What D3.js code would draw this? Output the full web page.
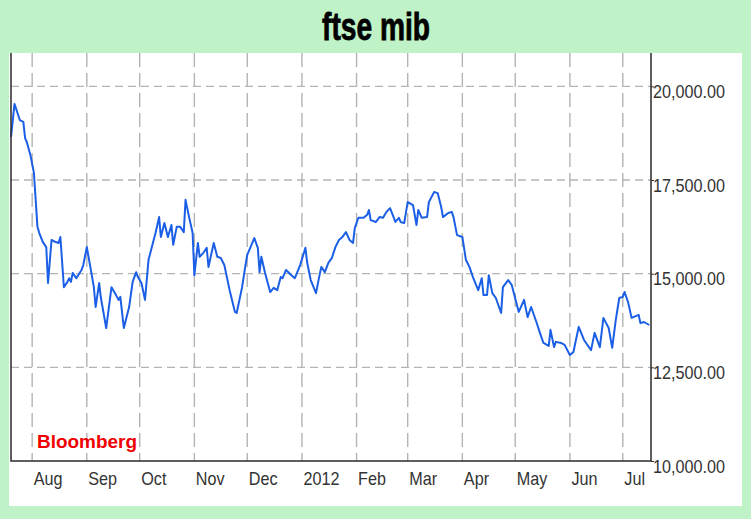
<!DOCTYPE html>
<html><head><meta charset="utf-8">
<script src="https://cdn.jsdelivr.net/npm/d3@7"></script>
<style>body{margin:0;background:#bff2c6;} svg{display:block}</style>
</head><body><svg id="c" width="751" height="519"></svg>
<script>
const titleText = "ftse mib";
const sourceText = "Bloomberg";
const dates = [
"2011-07-20","2011-07-22","2011-07-25","2011-07-27","2011-07-28","2011-07-29","2011-07-31",
"2011-08-02","2011-08-03","2011-08-04","2011-08-05","2011-08-07","2011-08-09","2011-08-10","2011-08-12",
"2011-08-14","2011-08-16","2011-08-17","2011-08-19","2011-08-21","2011-08-22","2011-08-23","2011-08-24",
"2011-08-26","2011-08-29","2011-08-30","2011-09-01","2011-09-03","2011-09-05","2011-09-06","2011-09-08",
"2011-09-09","2011-09-12","2011-09-15","2011-09-17","2011-09-19","2011-09-20","2011-09-22","2011-09-25",
"2011-09-27","2011-09-29","2011-09-30","2011-10-02","2011-10-04","2011-10-06","2011-10-10","2011-10-12",
"2011-10-13","2011-10-15","2011-10-17","2011-10-19","2011-10-20","2011-10-22","2011-10-24","2011-10-26",
"2011-10-27","2011-10-29","2011-10-31","2011-11-01","2011-11-03","2011-11-04","2011-11-06","2011-11-08",
"2011-11-09","2011-11-12","2011-11-14","2011-11-16","2011-11-18","2011-11-21","2011-11-24","2011-11-25",
"2011-11-28","2011-11-30","2011-12-01","2011-12-05","2011-12-07","2011-12-08","2011-12-09","2011-12-11",
"2011-12-14","2011-12-16","2011-12-18","2011-12-20","2011-12-21","2011-12-23","2011-12-26","2011-12-28",
"2011-12-31","2012-01-03","2012-01-04","2012-01-06","2012-01-09","2012-01-11","2012-01-12","2012-01-14",
"2012-01-16","2012-01-18","2012-01-20","2012-01-22","2012-01-24","2012-01-26","2012-01-28","2012-01-30",
"2012-01-31","2012-02-02","2012-02-05","2012-02-07","2012-02-08","2012-02-09","2012-02-12","2012-02-14",
"2012-02-16","2012-02-18","2012-02-20","2012-02-22","2012-02-23","2012-02-25","2012-02-26","2012-02-28",
"2012-03-01","2012-03-04","2012-03-06","2012-03-07","2012-03-09","2012-03-12","2012-03-13","2012-03-16",
"2012-03-18","2012-03-20","2012-03-21","2012-03-24","2012-03-26","2012-03-27","2012-03-29","2012-04-01",
"2012-04-03","2012-04-05","2012-04-07","2012-04-10","2012-04-12","2012-04-13","2012-04-15","2012-04-16",
"2012-04-18","2012-04-20","2012-04-23","2012-04-24","2012-04-27","2012-04-29","2012-05-03","2012-05-06",
"2012-05-08","2012-05-10","2012-05-13","2012-05-15","2012-05-17","2012-05-20","2012-05-21","2012-05-23",
"2012-05-24","2012-05-27","2012-05-29","2012-06-01","2012-06-03","2012-06-06","2012-06-09","2012-06-13",
"2012-06-15","2012-06-18","2012-06-20","2012-06-23","2012-06-25","2012-06-27","2012-06-29","2012-07-01",
"2012-07-02","2012-07-04","2012-07-06","2012-07-10","2012-07-11","2012-07-13","2012-07-16"];
const values = [
18650,19530,19100,19050,18620,18510,18170,
17690,16970,16250,16090,15850,15710,14750,15900,
15850,15820,15980,14640,14780,14880,14780,15020,
14880,15100,15230,15710,15180,14640,14110,14750,
14350,13550,14640,14480,14300,14380,13550,14110,
14780,15040,14910,14750,14300,15370,16090,16510,
15980,16350,15980,16300,15770,16250,16250,16110,
16970,16510,16090,14960,15820,15450,15550,15690,
15180,15820,15450,15420,15230,14560,13980,13950,
14620,15230,15500,15950,15690,15040,15450,15040,
14510,14620,14560,14910,14880,15100,14960,14880,
15230,15690,15290,14830,14480,14960,15180,15040,
15290,15420,15710,15900,15980,16110,15900,15820,
16220,16490,16490,16570,16700,16430,16380,16510,
16490,16650,16750,16510,16380,16490,16380,16350,
16910,16830,16300,16700,16490,16510,16910,17180,
17150,16780,16510,16620,16650,16510,16030,15980,
15370,15180,14910,14560,14880,14430,14430,14960,
14480,14350,13950,14640,14830,14700,13980,14300,
13840,14110,13710,13420,13150,13070,13500,13040,
13180,13150,13100,12830,12910,13580,13230,12960,
13420,13040,13820,13550,13020,13760,14350,14380,
14510,14240,13820,13900,13680,13710,13630];
const monthTicks = ["2011-08-01","2011-09-01","2011-10-01","2011-11-01","2011-12-01","2012-01-01",
"2012-02-01","2012-03-01","2012-04-01","2012-05-01","2012-06-01","2012-07-01"];
const monthLabels = ["Aug","Sep","Oct","Nov","Dec","2012","Feb","Mar","Apr","May","Jun","Jul"];
const yTicks = [10000,12500,15000,17500,20000];
const domainDates = ["2011-07-20","2012-07-17"];
const yDomain = [10000,20890];

const parse = d3.timeParse("%Y-%m-%d");
const data = dates.map((d,i)=>({date:parse(d), value:values[i]}));
const svg = d3.select("#c");
const L=11,R=651,T=53,B=461;
const x = d3.scaleTime().domain(domainDates.map(parse)).range([L,R]);
const y = d3.scaleLinear().domain(yDomain).range([B,T]);
const font = "'Liberation Sans', Arial, sans-serif";

svg.append("rect").attr("width",751).attr("height",519).attr("fill","#bff2c6");
svg.append("rect").attr("x",9).attr("y",T).attr("width",733).attr("height",453).attr("fill","#ffffff");

// title
svg.append("text").attr("x",376).attr("y",40).attr("text-anchor","middle")
  .attr("font-family",font).attr("font-weight","bold").attr("font-size",39)
  .attr("textLength",108).attr("lengthAdjust","spacingAndGlyphs")
  .attr("fill","#000").attr("stroke","#000").attr("stroke-width",0.8)
  .text(titleText);

// grid
const grid = svg.append("g");
grid.selectAll("line.v").data(monthTicks.map(parse)).join("line")
  .attr("x1",d=>x(d)).attr("x2",d=>x(d)).attr("y1",T).attr("y2",B)
  .attr("stroke","#b4b4b4").attr("stroke-width",1.4).attr("stroke-dasharray","14,6");
grid.selectAll("line.h").data(yTicks.slice(1)).join("line")
  .attr("x1",L).attr("x2",R).attr("y1",d=>y(d)).attr("y2",d=>y(d))
  .attr("stroke","#b4b4b4").attr("stroke-width",1.4).attr("stroke-dasharray","8,5");

// line
svg.append("path").datum(data)
  .attr("d", d3.line().x(d=>x(d.date)).y(d=>y(d.value)))
  .attr("fill","none").attr("stroke","#1b5fe6").attr("stroke-width",2).attr("stroke-linejoin","round");

// frame
svg.append("path").attr("d",`M${L},${T}V${B}H${R}V${T}`).attr("fill","none")
  .attr("stroke","#2a2a2a").attr("stroke-width",1.5);

// axes
const fmtY = d3.format(",.2f");
const yAxis = svg.append("g").attr("transform",`translate(${R},0)`)
  .call(d3.axisRight(y).tickValues(yTicks).tickFormat(fmtY).tickSize(3));
yAxis.select(".domain").remove();
yAxis.selectAll("line").attr("stroke","#333");
yAxis.selectAll("text").attr("x",null).attr("dy",null)
  .attr("transform","translate(2,11) scale(0.9,1)")
  .attr("text-anchor","start").attr("font-family",font).attr("font-size",18).attr("fill","#333");

const xAxis = svg.append("g").attr("transform",`translate(0,${B})`)
  .call(d3.axisBottom(x).tickValues(monthTicks.map(parse)).tickFormat((d,i)=>monthLabels[i]).tickSize(0));
xAxis.select(".domain").remove();
xAxis.selectAll("text").attr("y",null).attr("dy",null)
  .attr("transform","translate(1,24) scale(0.9,1)")
  .attr("text-anchor","start").attr("font-family",font).attr("font-size",18).attr("fill","#333");

// source
svg.append("text").attr("x",37).attr("y",448).attr("font-family",font).attr("font-weight","bold")
  .attr("font-size",18).attr("textLength",100).attr("lengthAdjust","spacingAndGlyphs")
  .attr("fill","#f00000").text(sourceText);
</script></body></html>
